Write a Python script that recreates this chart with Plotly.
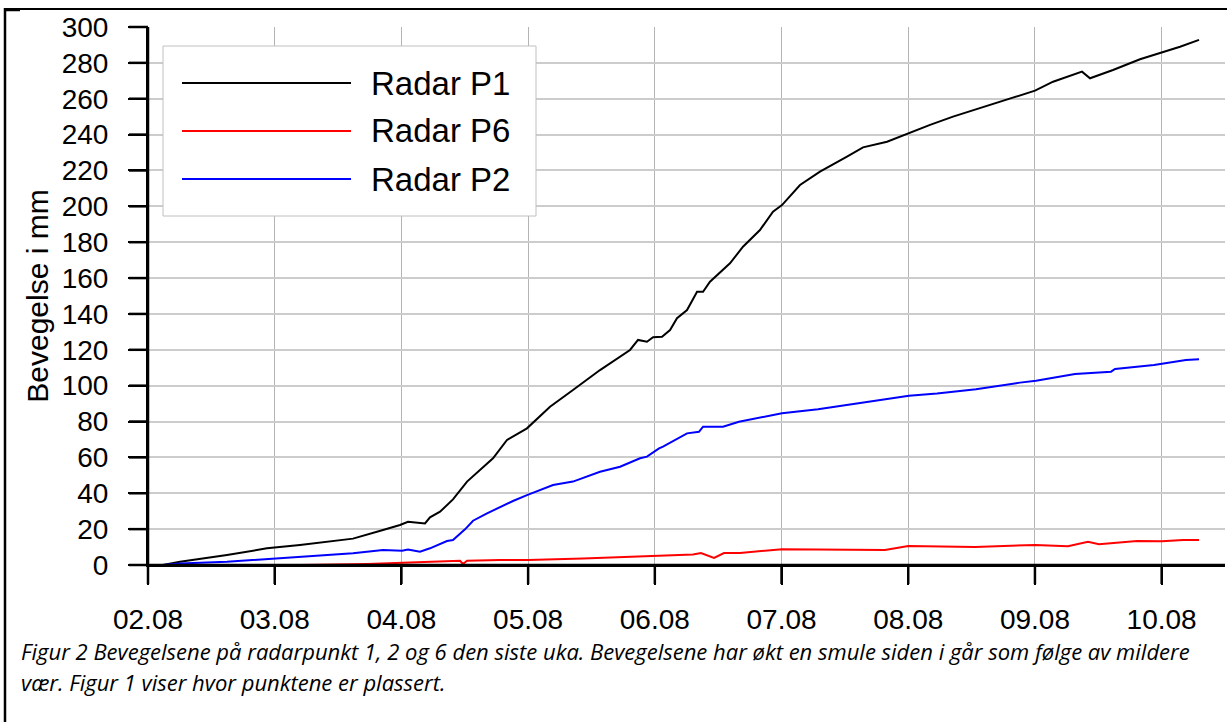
import plotly.graph_objects as go
import pandas as pd

# ---- data ----
p1_time = ["2023-08-02 02:50", "2023-08-02 06:04", "2023-08-02 14:58", "2023-08-02 22:32",
           "2023-08-03 04:47", "2023-08-03 11:02", "2023-08-03 14:50", "2023-08-03 20:31",
           "2023-08-03 23:44", "2023-08-04 01:15", "2023-08-04 04:28", "2023-08-04 05:25",
           "2023-08-04 07:19", "2023-08-04 09:46", "2023-08-04 12:26", "2023-08-04 17:21",
           "2023-08-04 20:00", "2023-08-04 23:47", "2023-08-05 04:09", "2023-08-05 08:30",
           "2023-08-05 13:37", "2023-08-05 19:18", "2023-08-05 20:49", "2023-08-05 22:31",
           "2023-08-05 23:40", "2023-08-06 01:22", "2023-08-06 02:53", "2023-08-06 04:12",
           "2023-08-06 06:06", "2023-08-06 08:00", "2023-08-06 09:08", "2023-08-06 10:27",
           "2023-08-06 12:44", "2023-08-06 14:14", "2023-08-06 16:42", "2023-08-06 19:55",
           "2023-08-06 22:23", "2023-08-07 00:05", "2023-08-07 03:30", "2023-08-07 07:17",
           "2023-08-07 12:24", "2023-08-07 15:26", "2023-08-07 19:59", "2023-08-08 00:00",
           "2023-08-08 04:08", "2023-08-08 08:29", "2023-08-08 13:36", "2023-08-08 18:43",
           "2023-08-09 00:01", "2023-08-09 03:26", "2023-08-09 08:55", "2023-08-09 10:26",
           "2023-08-09 14:47", "2023-08-09 19:54", "2023-08-10 00:04", "2023-08-10 03:29",
           "2023-08-10 07:05"]
p1_mm = [0, 1.8, 5.6, 9.3,
         11.2, 13.6, 14.7, 19.5,
         22.3, 24.1, 23.2, 26.6,
         29.7, 36.6, 46.5, 59.5,
         69.7, 76.2, 88.3, 97.6,
         108.7, 119.9, 125.5, 124.5,
         127.0, 127.3, 131.0, 137.6,
         142.2, 152.4, 152.4, 158.0,
         164.5, 168.2, 177.5, 186.8,
         197.0, 200.7, 211.9, 219.3,
         227.7, 232.9, 236.0, 240.7,
         245.4, 250.0, 254.7, 259.3,
         264.5, 269.5, 275.1, 271.4,
         276.0, 282.0, 285.7, 289.0,
         292.8]

p6_time = ["2023-08-02 02:50", "2023-08-02 06:04", "2023-08-02 14:13", "2023-08-02 15:32",
           "2023-08-02 19:19", "2023-08-03 04:47", "2023-08-03 17:29", "2023-08-03 23:44",
           "2023-08-04 05:59", "2023-08-04 09:46", "2023-08-04 11:06", "2023-08-04 11:40",
           "2023-08-04 12:26", "2023-08-04 18:40", "2023-08-05 00:00", "2023-08-05 10:24",
           "2023-08-06 00:02", "2023-08-06 07:14", "2023-08-06 08:44", "2023-08-06 11:13",
           "2023-08-06 13:06", "2023-08-06 16:08", "2023-08-07 00:05", "2023-08-07 11:50",
           "2023-08-07 19:36", "2023-08-08 00:00", "2023-08-08 12:40", "2023-08-09 00:01",
           "2023-08-09 06:15", "2023-08-09 10:03", "2023-08-09 12:08", "2023-08-09 19:20",
           "2023-08-10 00:04", "2023-08-10 04:03", "2023-08-10 07:05"]
p6_mm = [0, 0, -0.9, -1.9,
         -0.9, 0, 0.6, 1.3,
         1.8, 2.2, 2.4, 0.6,
         2.4, 2.8, 2.8, 3.6,
         5.3, 5.9, 6.7, 4.0,
         6.7, 6.7, 8.8, 8.6,
         8.4, 10.6, 10.0, 11.2,
         10.4, 12.9, 11.6, 13.4,
         13.2, 13.9, 13.9]

p2_time = ["2023-08-02 02:50", "2023-08-02 06:04", "2023-08-02 14:58", "2023-08-02 22:32",
           "2023-08-03 04:47", "2023-08-03 11:02", "2023-08-03 14:50", "2023-08-03 20:31",
           "2023-08-04 00:07", "2023-08-04 01:15", "2023-08-04 03:31", "2023-08-04 05:25",
           "2023-08-04 08:38", "2023-08-04 09:46", "2023-08-04 12:03", "2023-08-04 13:34",
           "2023-08-04 16:13", "2023-08-04 21:08", "2023-08-04 23:47", "2023-08-05 04:43",
           "2023-08-05 08:30", "2023-08-05 13:37", "2023-08-05 17:25", "2023-08-05 21:12",
           "2023-08-05 22:31", "2023-08-06 00:48", "2023-08-06 01:33", "2023-08-06 06:06",
           "2023-08-06 08:22", "2023-08-06 09:08", "2023-08-06 12:55", "2023-08-06 15:56",
           "2023-08-06 19:32", "2023-08-07 00:05", "2023-08-07 06:55", "2023-08-07 14:18",
           "2023-08-08 00:08", "2023-08-08 05:27", "2023-08-08 12:50", "2023-08-08 21:10",
           "2023-08-09 00:12", "2023-08-09 07:35", "2023-08-09 14:25", "2023-08-09 15:10",
           "2023-08-09 22:33", "2023-08-10 04:36", "2023-08-10 07:05"]
p2_mm = [0, 0.9, 1.8, 3.3,
         4.3, 5.8, 6.5, 8.4,
         8.0, 8.7, 7.4, 9.3,
         13.4, 13.9, 19.9, 24.7,
         28.8, 35.7, 39.0, 44.6,
         46.5, 52.0, 54.8, 59.5,
         60.4, 65.0, 66.0, 73.4,
         74.3, 77.1, 77.1, 79.9,
         81.8, 84.6, 86.8, 90.2,
         94.4, 95.7, 98.0, 101.7,
         102.8, 106.5, 107.8, 109.3,
         111.5, 114.3, 114.7]

series_names = ["Radar P1", "Radar P6", "Radar P2"]
series_colors = ["#000000", "#ff0000", "#0000ff"]
tick_days = ["2023-08-02", "2023-08-03", "2023-08-04", "2023-08-05", "2023-08-06",
             "2023-08-07", "2023-08-08", "2023-08-09", "2023-08-10"]
tick_labels = ["02.08", "03.08", "04.08", "05.08", "06.08", "07.08", "08.08", "09.08", "10.08"]
y_ticks = list(range(0, 301, 20))
x_range = ["2023-08-02 00:00", "2023-08-10 12:00"]
y_range = [0, 300]
y_title = "Bevegelse i mm"
caption_1 = "Figur 2 Bevegelsene på radarpunkt 1, 2 og 6 den siste uka. Bevegelsene har økt en smule siden i går som følge av mildere"
caption_2 = "vær. Figur 1 viser hvor punktene er plassert."

# ---- figure ----
W, H = 1227, 722
L, R, T, B = 148, 2, 27, 157
pw, ph = W - L - R, H - T - B


def px(x):
    return (x - L) / pw


def py(y):
    return (H - B - y) / ph


def x_frac(d):
    t0, t1 = pd.Timestamp(x_range[0]), pd.Timestamp(x_range[1])
    return float((pd.Timestamp(d) - t0) / (t1 - t0))


def y_frac(v):
    return float((v - y_range[0]) / (y_range[1] - y_range[0]))


fig = go.Figure()
for t, v, name, col in zip([p1_time, p6_time, p2_time], [p1_mm, p6_mm, p2_mm],
                           series_names, series_colors):
    fig.add_trace(go.Scatter(x=t, y=v, mode="lines", name=name,
                             line=dict(color=col, width=2), showlegend=False))

axis_font = dict(family="Liberation Sans, Arial, sans-serif", size=28, color="#000000")

fig.update_layout(
    width=W, height=H,
    margin=dict(l=L, r=R, t=T, b=B),
    paper_bgcolor="white", plot_bgcolor="white",
    xaxis=dict(
        type="date", range=x_range,
        tickvals=tick_days, ticktext=tick_labels,
        ticks="outside", ticklen=18, tickwidth=2, tickcolor="#000000",
        showline=True, linecolor="#000000", linewidth=2,
        showgrid=True, gridcolor="#b4b4b4", gridwidth=1,
        zeroline=False, tickfont=axis_font, ticklabelstandoff=10,
    ),
    yaxis=dict(
        range=y_range, tickvals=y_ticks,
        ticks="outside", ticklen=18, tickwidth=2, tickcolor="#000000",
        showline=True, linecolor="#000000", linewidth=2,
        showgrid=True, gridcolor="#cccccc", gridwidth=1.5,
        zeroline=False, tickfont=axis_font, ticklabelstandoff=14,
        title=dict(text=y_title, font=dict(family="Liberation Sans, Arial, sans-serif",
                                           size=30, color="#000000"), standoff=4),
    ),
)

shapes = []
annotations = []
# axis lines and tick marks drawn in paper space (outside the plot area, not clipped)
shapes.append(dict(type="line", xref="paper", yref="paper", x0=0, x1=0, y0=0, y1=1,
                   line=dict(color="#000000", width=2.5), layer="above"))
shapes.append(dict(type="line", xref="paper", yref="paper", x0=0, x1=1, y0=0, y1=0,
                   line=dict(color="#000000", width=2.5), layer="above"))
for v in y_ticks:
    yf = y_frac(v)
    shapes.append(dict(type="line", xref="paper", yref="paper", x0=px(129), x1=0,
                       y0=yf, y1=yf, line=dict(color="#000000", width=2.5), layer="above"))
for d in tick_days:
    xf = x_frac(d)
    shapes.append(dict(type="line", xref="paper", yref="paper", x0=xf, x1=xf,
                       y0=py(584), y1=0, line=dict(color="#000000", width=2.5), layer="above"))

# document frame lines
shapes.append(dict(type="line", xref="paper", yref="paper", x0=px(5), x1=px(5),
                   y0=py(8), y1=py(722), line=dict(color="#000000", width=2.5)))
shapes.append(dict(type="line", xref="paper", yref="paper", x0=px(5), x1=px(1227),
                   y0=py(9), y1=py(9), line=dict(color="#000000", width=2)))
shapes.append(dict(type="line", xref="paper", yref="paper", x0=px(5), x1=px(20),
                   y0=py(10), y1=py(10), line=dict(color="#000000", width=2.5)))

# legend box
shapes.append(dict(type="rect", xref="paper", yref="paper", x0=px(163), x1=px(536),
                   y0=py(216), y1=py(46), line=dict(color="#c0c0c0", width=1),
                   fillcolor="white", layer="above"))
for i, (name, col) in enumerate(zip(series_names, series_colors)):
    yy = 83 + i * 48
    shapes.append(dict(type="line", xref="paper", yref="paper", x0=px(182), x1=px(351),
                       y0=py(yy), y1=py(yy), line=dict(color=col, width=1.8), layer="above"))
    annotations.append(dict(xref="paper", yref="paper", x=px(369), y=py(yy),
                            xanchor="left", yanchor="middle", showarrow=False, text=name,
                            font=dict(family="Liberation Sans, Arial, sans-serif", size=33,
                                      color="#000000")))

cap_font = dict(family="Open Sans, Noto Sans, sans-serif", size=22, color="#000000")
annotations.append(dict(xref="paper", yref="paper", x=px(19), y=py(651), xanchor="left",
                        yanchor="middle", showarrow=False, text="<i>" + caption_1 + "</i>",
                        font=cap_font))
annotations.append(dict(xref="paper", yref="paper", x=px(19), y=py(682), xanchor="left",
                        yanchor="middle", showarrow=False, text="<i>" + caption_2 + "</i>",
                        font=cap_font))

fig.update_layout(shapes=shapes, annotations=annotations)
fig.write_html("out.html", config={"displayModeBar": False},
               post_script="document.body.style.margin='0';document.body.style.padding='0';")
